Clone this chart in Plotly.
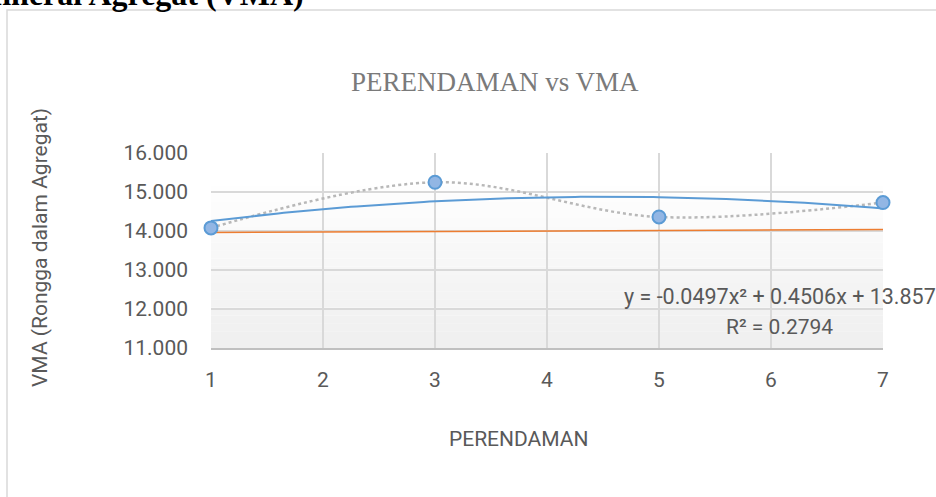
import numpy as np
import plotly.graph_objects as go

# ---- data ----
perendaman = [1, 3, 5, 7]
vma = [14.08, 15.25, 14.36, 14.73]
orange_x = [1, 7]
orange_y = [13.96, 14.04]
trend_coef = [-0.0497, 0.4506, 13.857]   # y = a x^2 + b x + c
x_ticks = [1, 2, 3, 4, 5, 6, 7]
y_ticks = [11, 12, 13, 14, 15, 16]
eq_text = "y = -0.0497x² + 0.4506x + 13.857"
r2_text = "R² = 0.2794"

W, H = 936, 497
L, R, T, B = 211, 883, 153, 348

def px_x(p):
    return (p - L) / (R - L)

def px_y(p):
    return (B - p) / (B - T)

tx = np.linspace(min(perendaman), max(perendaman), 121)
ty = np.polyval(trend_coef, tx)

fig = go.Figure()
fig.add_trace(go.Scatter(x=orange_x, y=orange_y, mode="lines",
                         line=dict(color="#ed7d31", width=1.5), hoverinfo="skip"))
fig.add_trace(go.Scatter(x=perendaman, y=vma, mode="lines",
                         line=dict(color="#b8b8b8", width=2.5, dash="dot", shape="spline", smoothing=1.0),
                         hoverinfo="skip"))
fig.add_trace(go.Scatter(x=tx, y=ty, mode="lines",
                         line=dict(color="#5b9bd5", width=2), hoverinfo="skip"))
fig.add_trace(go.Scatter(x=perendaman, y=vma, mode="markers", cliponaxis=False,
                         marker=dict(size=13, color="#92b6e4", line=dict(color="#5b9bd5", width=2))))

shapes = []
# chart area border
shapes.append(dict(type="rect", xref="paper", yref="paper",
                   x0=px_x(7), x1=px_x(1100), y0=px_y(700), y1=px_y(10),
                   line=dict(color="#d9d9d9", width=1.5), fillcolor="rgba(0,0,0,0)", layer="below"))
# plot-area gradient
n = 24
for i in range(n):
    f0 = i / n
    f1 = (i + 1) / n
    t = min(1.0, f0 / 0.85)
    g = int(round(0xef + (0xff - 0xef) * t))
    shapes.append(dict(type="rect", xref="paper", yref="paper",
                       x0=0, x1=1, y0=f0, y1=f1, line=dict(width=0),
                       fillcolor=f"rgb({g},{g},{g})", layer="below"))

font_main = "Roboto, 'Noto Sans', sans-serif"

annotations = [
    dict(text="PERENDAMAN vs VMA", xref="paper", yref="paper", x=px_x(495), y=px_y(82),
         showarrow=False, font=dict(family="Liberation Serif, 'Times New Roman', serif", size=27, color="#7a7a7a"),
         xanchor="center", yanchor="middle"),
    dict(text="PERENDAMAN", xref="paper", yref="paper", x=px_x(519), y=px_y(439),
         showarrow=False, font=dict(family=font_main, size=21, color="#595959"),
         xanchor="center", yanchor="middle"),
    dict(text="VMA (Rongga dalam Agregat)", xref="paper", yref="paper", x=px_x(40), y=px_y(248),
         showarrow=False, textangle=-90, font=dict(family=font_main, size=21, color="#595959"),
         xanchor="center", yanchor="middle"),
    dict(text=eq_text, xref="x", yref="y", x=6.08, y=12.33, showarrow=False,
         font=dict(family=font_main, size=21.5, color="#595959"), xanchor="center", yanchor="middle"),
    dict(text=r2_text, xref="x", yref="y", x=6.08, y=11.54, showarrow=False,
         font=dict(family=font_main, size=21, color="#595959"), xanchor="center", yanchor="middle"),
    dict(text="<b>Mineral Agregat (VMA)</b>", xref="paper", yref="paper", x=px_x(-30), y=px_y(-6),
         showarrow=False, font=dict(family="Liberation Serif, 'Times New Roman', serif", size=32, color="#000000"),
         xanchor="left", yanchor="middle"),
]

fig.update_layout(
    width=W, height=H,
    margin=dict(l=L, r=W - R, t=T, b=H - B, pad=0),
    paper_bgcolor="white", plot_bgcolor="white",
    showlegend=False,
    shapes=shapes,
    annotations=annotations,
    xaxis=dict(range=[1, 7], tickvals=x_ticks, showgrid=True, gridcolor="#d9d9d9", gridwidth=1.5,
               zeroline=False, showline=True, linecolor="#bfbfbf", linewidth=1.5,
               ticks="", ticklabelstandoff=12,
               tickfont=dict(family=font_main, size=21, color="#595959")),
    yaxis=dict(range=[11, 16], tickvals=y_ticks, tickformat=".3f", showgrid=True,
               gridcolor="#d9d9d9", gridwidth=1.5, zeroline=False, showline=False,
               ticks="", ticklabelstandoff=22,
               tickfont=dict(family=font_main, size=21, color="#595959")),
)

fig.write_html("out.html", config={"displayModeBar": False},
               post_script="document.body.style.margin='0';document.body.style.overflow='hidden';")
